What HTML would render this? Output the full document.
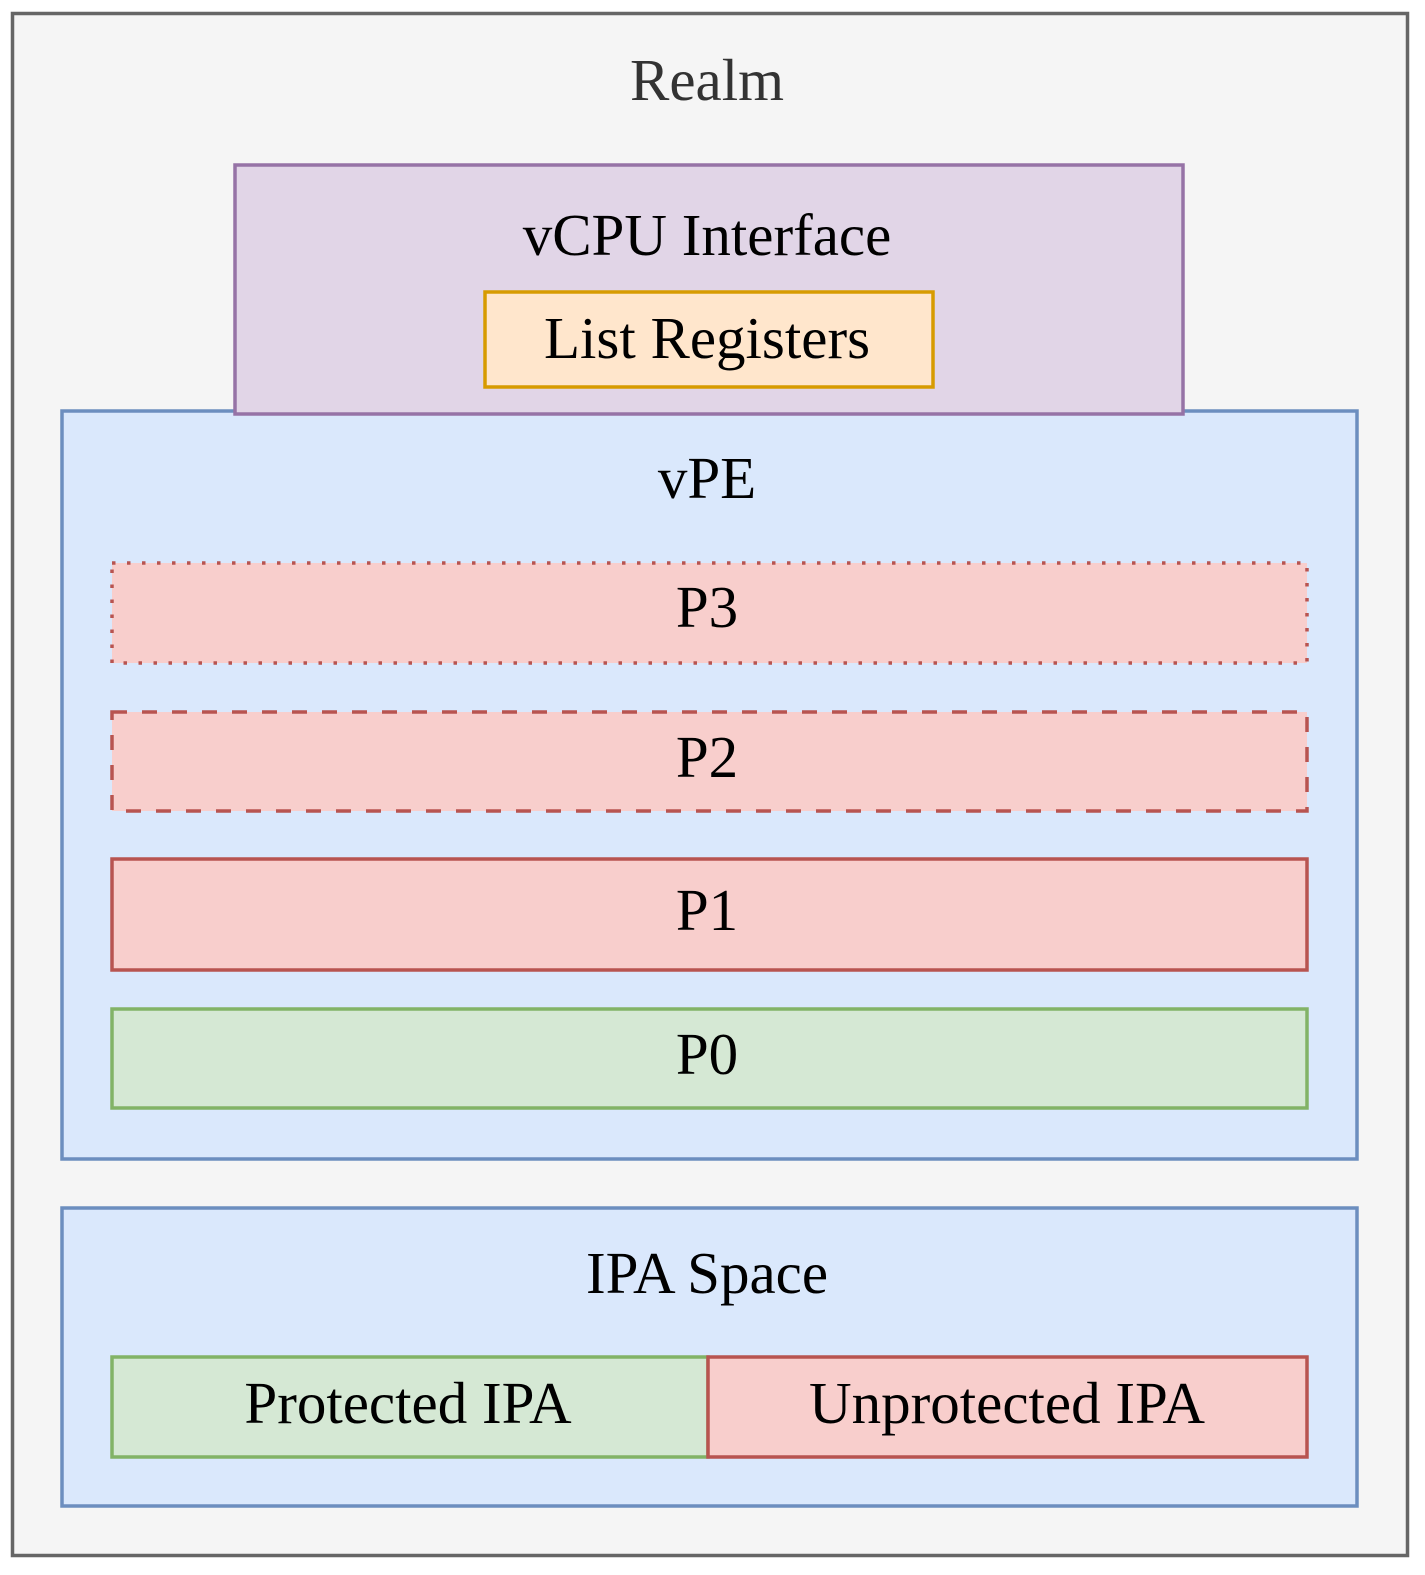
<!DOCTYPE html>
<html><head><style>html,body{margin:0;padding:0;background:#fff;overflow:hidden;width:1425px;height:1575px}svg{display:block}text{font-family:"Liberation Serif",serif;text-anchor:middle}</style></head>
<body>
<svg width="1425" height="1575" viewBox="0 0 1425 1575">
<rect x="12.5" y="13.5" width="1395" height="1542" fill="#f5f5f5" stroke="#666" stroke-width="3.5"/>
<text x="707" y="100" font-size="59" fill="#333">Realm</text>
<rect x="62" y="411" width="1295" height="748" fill="#dae8fc" stroke="#6c8ebf" stroke-width="3.5"/>
<text x="707" y="498" font-size="59">vPE</text>
<rect x="235" y="165" width="948" height="249" fill="#e1d5e7" stroke="#9673a6" stroke-width="3.5"/>
<text x="707" y="255" font-size="59">vCPU Interface</text>
<rect x="485" y="292" width="448" height="95" fill="#ffe6cc" stroke="#d79b00" stroke-width="3.5"/>
<text x="707" y="358" font-size="59">List Registers</text>
<rect x="112" y="563" width="1195" height="100" fill="#f8cecc" stroke="#b85450" stroke-width="3.5" stroke-dasharray="3.5 11.5"/>
<text x="707" y="627" font-size="59">P3</text>
<rect x="112" y="712" width="1195" height="99" fill="#f8cecc" stroke="#b85450" stroke-width="3.5" stroke-dasharray="15 15"/>
<text x="707" y="777" font-size="59">P2</text>
<rect x="112" y="859" width="1195" height="111" fill="#f8cecc" stroke="#b85450" stroke-width="3.5"/>
<text x="707" y="930" font-size="59">P1</text>
<rect x="112" y="1009" width="1195" height="99" fill="#d5e8d4" stroke="#82b366" stroke-width="3.5"/>
<text x="707" y="1074" font-size="59">P0</text>
<rect x="62" y="1208" width="1295" height="298" fill="#dae8fc" stroke="#6c8ebf" stroke-width="3.5"/>
<text x="707" y="1293" font-size="59">IPA Space</text>
<rect x="112" y="1357" width="596" height="100" fill="#d5e8d4" stroke="#82b366" stroke-width="3.5"/>
<text x="408" y="1423" font-size="59">Protected IPA</text>
<rect x="708" y="1357" width="599" height="100" fill="#f8cecc" stroke="#b85450" stroke-width="3.5"/>
<text x="1007" y="1423" font-size="59">Unprotected IPA</text>
</svg>
</body></html>
